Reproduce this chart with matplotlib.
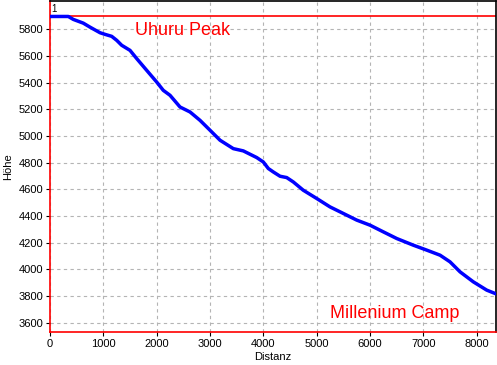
import matplotlib
matplotlib.use("Agg")
import matplotlib.pyplot as plt

plt.rcParams['font.family'] = ['Liberation Sans', 'DejaVu Sans']

# distance (m) and elevation (m)
distanz = [0, 343, 437, 624, 750, 938, 1031, 1157, 1251, 1344, 1500, 1626,
           1813, 2001, 2124, 2250, 2438, 2625, 2813, 3000, 3188, 3437, 3624,
           3876, 3999, 4093, 4187, 4313, 4438, 4562, 4749, 5001, 5250, 5499,
           5751, 6000, 6249, 6501, 6812, 7063, 7313, 7500, 7688, 7937, 8188,
           8344]
hoehe = [5897, 5897, 5875, 5847, 5817, 5775, 5763, 5748, 5718, 5681, 5643,
         5581, 5493, 5405, 5343, 5306, 5218, 5181, 5118, 5044, 4969, 4906,
         4889, 4839, 4806, 4757, 4731, 4699, 4689, 4656, 4594, 4532, 4469,
         4420, 4370, 4332, 4282, 4232, 4182, 4145, 4107, 4057, 3982, 3907,
         3845, 3820]

xticks = [0, 1000, 2000, 3000, 4000, 5000, 6000, 7000, 8000]
yticks = [3600, 3800, 4000, 4200, 4400, 4600, 4800, 5000, 5200, 5400,
          5600, 5800]
peak = 5897

fig = plt.figure(figsize=(4.97, 3.65), dpi=100)
ax = fig.add_axes([50 / 497, 33 / 365, 446 / 497, 331 / 365])

ax.set_xlim(0, 8362)
ax.set_ylim(3531, 6013)
ax.set_xticks(xticks)
ax.set_yticks(yticks)
ax.tick_params(labelsize=8, length=3, width=0.8, pad=2)

ax.grid(True, color='#b4b4b4', linestyle=(0, (3, 3)), linewidth=0.8)
ax.set_axisbelow(True)

for side in ['left', 'bottom']:
    ax.spines[side].set_color('red')
    ax.spines[side].set_linewidth(1.2)
for side in ['top', 'right']:
    ax.spines[side].set_color('black')
    ax.spines[side].set_linewidth(1.2)

ax.axhline(peak, color='red', linewidth=1.2, zorder=2)
ax.plot(distanz, hoehe, color='#0000ff', linewidth=2.5, zorder=3)

ax.text(1594, 5755, 'Uhuru Peak', color='red', fontsize=13, va='baseline')
ax.text(5250, 3633, 'Millenium Camp', color='red', fontsize=13, va='baseline')
ax.text(0.002, 0.99, '1', transform=ax.transAxes, fontsize=7, va='top',
        ha='left')

ax.set_xlabel('Distanz', fontsize=8, labelpad=2.5)
ax.set_ylabel('Höhe', fontsize=8, labelpad=4)

fig.savefig('out.png', dpi=100)
